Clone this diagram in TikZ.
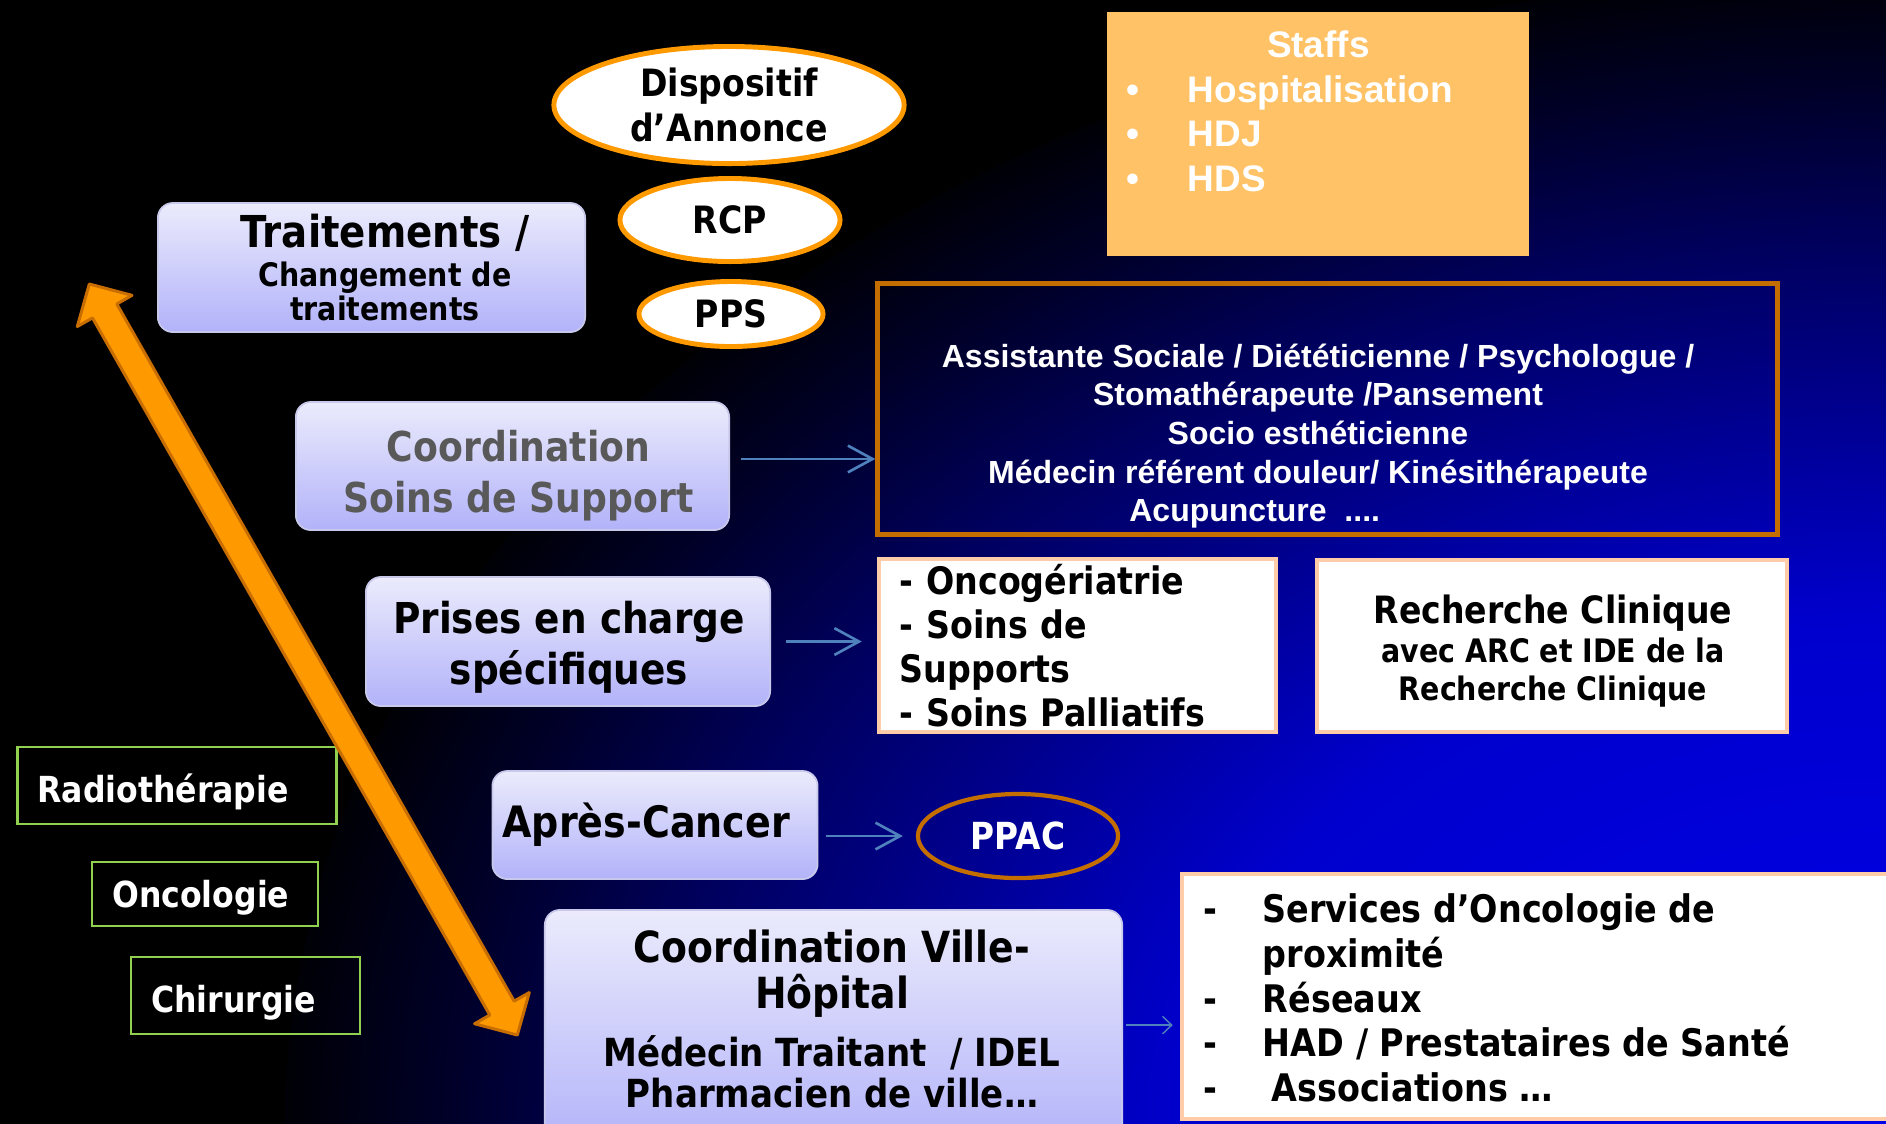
\documentclass[tikz,border=0pt]{standalone}
\usepackage{fontspec}
\usepackage{tikz}
\usetikzlibrary{arrows.meta,calc,shapes.geometric}

\newfontfamily\tahoma[FakeStretch=0.88]{DejaVu Sans}
\newfontfamily\arial{Liberation Sans}

\definecolor{annOrange}{RGB}{255,153,0}
\definecolor{arrowEdge}{RGB}{200,110,0}
\definecolor{staffOrange}{RGB}{255,194,102}
\definecolor{suppEdge}{RGB}{196,110,0}
\definecolor{peachEdge}{RGB}{255,204,170}
\definecolor{greenEdge}{RGB}{146,208,80}
\definecolor{linkBlue}{RGB}{79,129,189}
\definecolor{lilaTop}{RGB}{235,235,252}
\definecolor{lilaBot}{RGB}{178,178,250}
\definecolor{lilaEdge}{RGB}{200,200,235}
\definecolor{greyText}{RGB}{89,89,89}
\definecolor{bgA}{RGB}{0,0,235}
\definecolor{bgB}{RGB}{0,0,205}
\definecolor{bgC}{RGB}{0,0,150}
\definecolor{bgD}{RGB}{0,0,95}
\definecolor{bgE}{RGB}{0,0,40}
\definecolor{bgF}{RGB}{0,0,6}

\pgfdeclareradialshading{bgglow}{\pgfpoint{0bp}{0bp}}{%
  color(0bp)=(bgA); color(11bp)=(bgB); color(15bp)=(bgC);
  color(19bp)=(bgD); color(22.5bp)=(bgE); color(25bp)=(bgF); color(50bp)=(bgF)}

\tikzset{
  oval/.style={ellipse, draw=annOrange, line width=1.4pt, fill=white, inner sep=0pt,
    align=center, font=\tahoma\bfseries\fontsize{10.7}{12.7}\selectfont},
  lila/.style={rectangle, rounded corners=0.15cm, draw=lilaEdge, line width=0.5pt,
    top color=lilaTop, bottom color=lilaBot, inner sep=0pt, align=center},
  peachbox/.style={rectangle, draw=peachEdge, line width=1.2pt, fill=white, inner sep=0pt},
  greenbox/.style={rectangle, draw=greenEdge, line width=0.7pt, text=white, inner xsep=0.2cm,
    inner ysep=0pt, align=left, font=\tahoma\bfseries\fontsize{10.2}{12}\selectfont},
  boxtext/.style={inner sep=0pt, align=center},
  link/.style={draw=linkBlue, line width=0.75pt, -{Straight Barb[length=7pt,width=7.6pt]}},
  thinlink/.style={draw=linkBlue, line width=0.4pt, -{Straight Barb[length=2.6pt,width=5pt]}},
}

\begin{document}
\begin{tikzpicture}[x=0.01cm, y=-0.01cm]
  %%%%% BACKGROUND %%%%%
  \useasboundingbox (0,0) rectangle (1886,1123);
  \clip (-10,-10) rectangle (1896,1133);
  \fill[black] (-10,-10) rectangle (1896,1133);
  \shade[shading=bgglow] (1886,1123) ellipse (16cm and 11.5cm);

  %%%%% ANNONCE %%%%%
  \node[oval, minimum width=3.5cm, minimum height=1.17cm] (dispo) at (729,105) {Dispositif\\d’Annonce};
  \node[oval, minimum width=2.2cm, minimum height=0.83cm] (rcp) at (730,220) {RCP};
  \node[oval, minimum width=1.84cm, minimum height=0.65cm] (pps) at (731,314) {PPS};

  \node[lila, minimum width=4.27cm, minimum height=1.29cm] (trait) at (371.5,267.5) {};
  \node[boxtext, font=\tahoma\bfseries\fontsize{9.2}{9.7}\selectfont] (traittext) at (385,267.5)
    {{\fontsize{12.5}{9.7}\selectfont Traitements /}\\[1.4pt]Changement de\\traitements};

  %%%%% STAFFS %%%%%
  \node[fill=staffOrange, minimum width=4.22cm, minimum height=2.44cm, inner sep=0pt] (staffs) at (1318,134) {};
  \node[anchor=north west, inner sep=0pt, align=left, text=white,
    font=\arial\bfseries\fontsize{10.5}{12.7}\selectfont] (stafflist) at (1126,30)
    {\hspace*{39.9pt}Staffs\\
     \makebox[17.4pt][l]{\textbullet}Hospitalisation\\
     \makebox[17.4pt][l]{\textbullet}HDJ\\
     \makebox[17.4pt][l]{\textbullet}HDS};

  %%%%% SOINS DE SUPPORT %%%%%
  \node[draw=suppEdge, line width=1.4pt, minimum width=8.99cm, minimum height=2.5cm, inner sep=0pt] (support) at (1327.5,409) {};
  \node[boxtext, text=white, font=\arial\bfseries\fontsize{9.1}{11}\selectfont] (supplist) at (1318,436)
    {Assistante Sociale / Diététicienne / Psychologue /\\
     Stomathérapeute /Pansement\\
     Socio esthéticienne\\
     Médecin référent douleur/ Kinésithérapeute\\
     Acupuncture\ \ ....\hspace*{36pt}\mbox{}};

  \node[lila, minimum width=4.33cm, minimum height=1.28cm] (coordsupp) at (512.5,466) {};
  \node[boxtext, text=greyText, font=\tahoma\bfseries\fontsize{11.7}{14.5}\selectfont] (coordsupptext) at (518.5,476)
    {Coordination\\Soins de Support};

  %%%%% PRISES EN CHARGE %%%%%
  \node[lila, minimum width=4.04cm, minimum height=1.29cm] (prises) at (568,641.5) {};
  \node[boxtext, font=\tahoma\bfseries\fontsize{12.1}{14.5}\selectfont] (prisestext) at (569,647.5)
    {Prises en charge\\spécifiques};
  \node[peachbox, minimum height=1.73cm, inner xsep=0.21cm, text width=3.55cm, align=left,
    font=\tahoma\bfseries\fontsize{10.76}{12.5}\selectfont] (onco) at (1077.5,645.5)
    {- Oncogériatrie\\- Soins de\\Supports\\- Soins Palliatifs};
  \node[peachbox, minimum width=4.7cm, minimum height=1.72cm] (recherche) at (1552,646) {};
  \node[boxtext, font=\tahoma\bfseries\fontsize{9.2}{10.8}\selectfont] (recherchetext) at (1553,651)
    {{\fontsize{10.7}{10.8}\selectfont Recherche Clinique}\\[0.4pt]avec ARC et IDE de la\\Recherche Clinique};

  %%%%% SERVICES %%%%%
  \node[greenbox, text width=2.79cm, text height=11.8pt, minimum height=0.77cm] (radio) at (177,785.5) {Radiothérapie};
  \node[greenbox, text width=1.855cm, text height=9.8pt, minimum height=0.64cm] (oncol) at (205,894) {Oncologie};
  \node[greenbox, text width=1.885cm, text height=11.8pt, minimum height=0.77cm] (chir) at (245.5,995.5) {Chirurgie};

  %%%%% APRES-CANCER %%%%%
  \node[lila, minimum height=1.08cm, inner xsep=0.1cm, text width=3.05cm, align=left,
    font=\tahoma\bfseries\fontsize{12.3}{14.5}\selectfont] (apres) at (655,825) {Après-Cancer};
  \node[ellipse, draw=suppEdge, line width=1.2pt, inner sep=0pt, minimum width=2cm, minimum height=0.84cm,
    text=white, font=\tahoma\bfseries\fontsize{10.6}{12}\selectfont] (ppac) at (1018,836) {PPAC};

  %%%%% VILLE-HOPITAL %%%%%
  \node[lila, minimum width=5.77cm, minimum height=2.4cm] (ville) at (833.5,1030) {};
  \node[anchor=north, boxtext, font=\tahoma\bfseries\fontsize{11}{11.7}\selectfont] (villetext) at (832,929)
    {{\fontsize{12.2}{11.7}\selectfont Coordination Ville-}\\[1.5pt]
     {\fontsize{12.2}{11.7}\selectfont Hôpital}\\[4.7pt]
     Médecin Traitant\ \ / IDEL\\
     Pharmacien de ville…};
  \node[peachbox, minimum width=7.18cm, minimum height=2.45cm] (services) at (1541,996.5) {};
  \node[anchor=west, align=left, inner sep=0pt,
    font=\tahoma\bfseries\fontsize{10.8}{12.7}\selectfont] (servlist) at (1203,998)
    {\makebox[16.8pt][l]{-}Services d’Oncologie de\\
     \hspace*{16.8pt}proximité\\
     \makebox[16.8pt][l]{-}Réseaux\\
     \makebox[16.8pt][l]{-}HAD / Prestataires de Santé\\
     \makebox[16.8pt][l]{-}\hspace{2.5pt}Associations …};

  %%%%% LINKS %%%%%
  \draw[link, shorten <=0.11cm] ([yshift=2pt]coordsupp.east) -- ([yshift=2pt]coordsupp.east -| support.west);
  \draw[link, shorten <=0.15cm, shorten >=0.15cm] (prises.east) -- (prises.east -| onco.west);
  \draw[link, shorten <=0.08cm, shorten >=0.13cm] (apres.east |- ppac.west) -- (ppac.west);
  \draw[thinlink, shorten <=0.03cm, shorten >=0.07cm] ([yshift=1.4pt]ville.east) -- ([yshift=1.4pt]ville.east -| services.west);

  %%%%% BIG ARROW %%%%%
  \draw[line width=0.85pt, draw=arrowEdge, fill=annOrange, line join=round]
    (89.3,284) -- (132.0,295.3) -- (116.8,304.0) -- (514.1,1001.1) -- (529.3,992.5)
    -- (517.3,1035) -- (474.6,1023.7) -- (489.8,1015.0) -- (92.5,317.9) -- (77.3,326.5) -- cycle;
\end{tikzpicture}
\end{document}
